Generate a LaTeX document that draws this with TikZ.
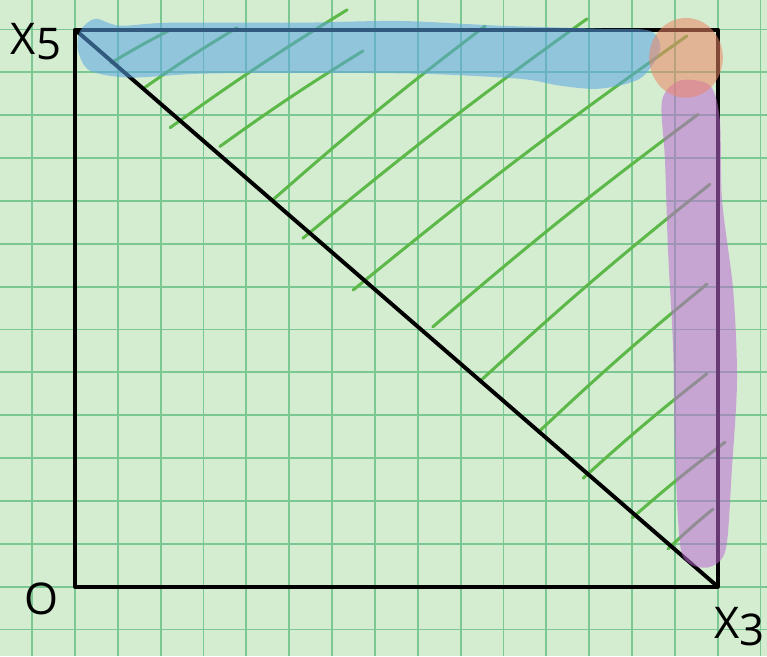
\documentclass[tikz,border=0pt]{standalone}
\usepackage{fontspec}
\setmainfont{Open Sans}
\usetikzlibrary{calc}
\definecolor{paper}{RGB}{212,236,208}
\definecolor{gridgreen}{RGB}{124,200,146}
\definecolor{hatchgreen}{RGB}{92,184,72}
\definecolor{hlblue}{RGB}{90,165,230}
\definecolor{hlorange}{RGB}{236,134,103}
\definecolor{hlpurple}{RGB}{190,107,212}
\tikzset{
  gridline/.style={line width=1.2pt,gridgreen},
  edge/.style={line width=2.6pt,black,line join=round},
  hatch/.style={line width=2pt,hatchgreen,line cap=round},
  hilite/.style={opacity=0.55,draw=none},
  lbl/.style={font=\fontsize{29}{32}\selectfont,inner sep=0pt},
}

\begin{document}
\begin{tikzpicture}
    % paper
    \fill[paper] (-1.75,-1.62) rectangle (16.15,13.69);
    \useasboundingbox (-1.75,-1.62) rectangle (16.15,13.69);
    \foreach \x in {-1,...,16}
      \draw[gridline] (\x,-1.62) -- (\x,13.69);
    \foreach \y in {-1,...,13}
      \draw[gridline] (-1.75,\y) -- (16.15,\y);
    % corners of the square
    \coordinate (o) at (0,0);
    \coordinate (x3) at (15,0);
    \coordinate (x5) at (0,13);
    \coordinate (c) at (15,13);
    % hatching of the upper triangle
    \foreach \xa/\ya/\xb/\yb in {0.84/12.22/2.22/12.99, 1.59/11.62/3.78/13.04,
        2.22/10.71/6.35/13.46, 3.38/10.27/6.72/12.50, 4.60/9.01/9.57/13.08,
        5.32/8.13/11.95/13.25, 6.49/6.92/14.28/12.85, 8.35/6.06/14.54/11.02,
        9.45/4.79/14.82/9.39, 10.81/3.60/14.75/7.06, 11.86/2.53/14.75/4.97,
        13.00/1.60/15.17/3.37, 13.84/0.88/14.89/1.81}
      \draw[hatch] (\xa,\ya) to[bend left=2] (\xb,\yb);
    \draw[edge] (x5) -- (c) -- (x3) -- (o) -- cycle;
    \draw[edge] (x5) -- (x3);
    % highlights
    \fill[hilite,hlblue] plot[smooth cycle] coordinates {(0.12,12.97) (0.47,13.25)
      (1.05,13.09) (2.22,13.16) (5.25,13.16) (7.58,13.20) (9.92,13.09) (12.25,13.02)
      (13.42,12.97) (13.65,12.51) (13.19,11.86) (12.25,11.62) (11.32,11.69)
      (10.39,11.85) (8.05,11.97) (5.25,11.99) (2.92,11.97) (1.28,11.88) (0.35,12.04)
      (0.07,12.51)};
    \fill[hilite,hlpurple] plot[smooth cycle] coordinates {(13.70,11.34) (14.12,11.81)
      (14.82,11.69) (15.05,10.88) (15.10,9.02) (15.36,6.92) (15.45,4.83) (15.33,2.74)
      (15.19,0.88) (14.82,0.46) (14.35,0.53) (14.12,0.99) (14.00,3.20) (13.96,5.53)
      (13.84,7.85) (13.77,9.95)};
    \fill[hilite,hlorange] (14.26,12.34) ellipse [x radius=0.86,y radius=0.93];
    % labels
    \node[lbl] (lx5) at (-0.91,12.72) {X\raisebox{-0.25ex}{5}};
    \node[lbl] (lo) at (-0.79,-0.29) {O};
    \node[lbl] (lx3) at (15.5,-0.94) {X\raisebox{-0.3ex}{3}};
\end{tikzpicture}
\end{document}
